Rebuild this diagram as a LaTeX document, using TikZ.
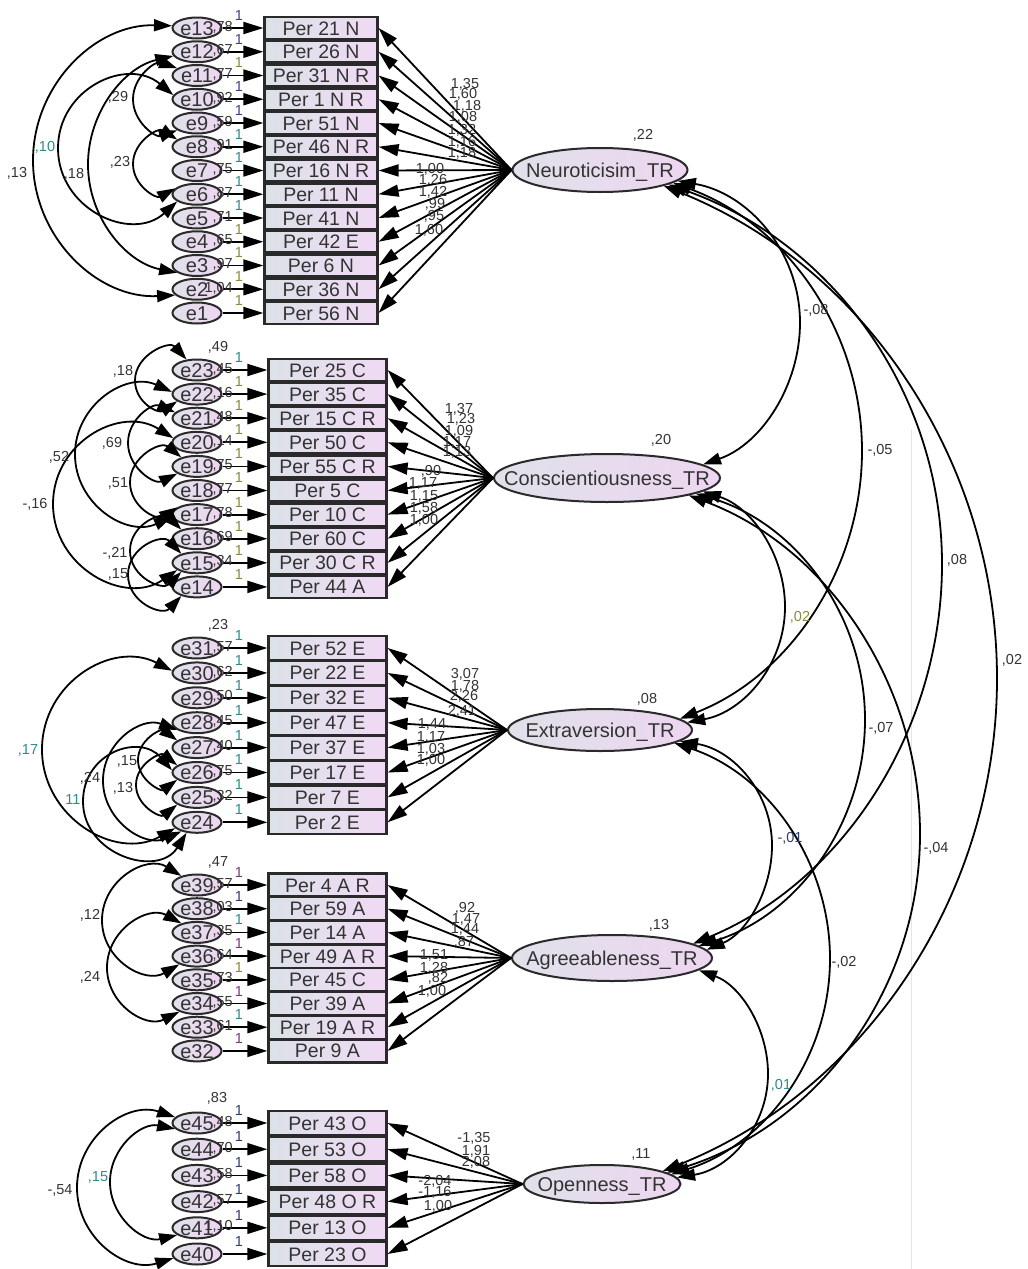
\documentclass[tikz,border=0pt]{standalone}
\usepackage{fontspec}
\setmainfont{Liberation Sans}
\usetikzlibrary{arrows.meta,shapes.geometric}
\definecolor{boxL}{HTML}{DCE1E8}
\definecolor{boxR}{HTML}{F0DAF4}
\definecolor{elL}{HTML}{E0E1EA}
\definecolor{elR}{HTML}{EDD6F0}
\definecolor{lnc}{HTML}{2A2A2A}
\definecolor{cP}{HTML}{4B3F8C}
\definecolor{cT}{HTML}{2E8B8B}
\definecolor{cO}{HTML}{8C8A3C}
\definecolor{cM}{HTML}{7A3A7A}
\definecolor{cD}{HTML}{333333}
\definecolor{cB}{HTML}{2F3F6F}
\newcommand{\ctext}[1]{\raisebox{-0.36em}[0pt][0pt]{\makebox[0pt][c]{#1}}}
\newcounter{lbc}
\newcommand{\mylab}[4][cD]{\stepcounter{lbc}\node[lab,text=#1,#2] (lbl\arabic{lbc}) at (#3) {#4};}
\tikzset{
 obsbox/.style={rectangle, draw=lnc, line width=2.2pt, left color=boxL, right color=boxR, inner sep=0pt, font=\fontsize{19.5pt}{20pt}\selectfont, text=cD},
 errel/.style={ellipse, draw=lnc, line width=2pt, left color=elL, right color=elR, inner sep=0pt, minimum width=49pt, minimum height=21pt, font=\fontsize{20pt}{21pt}\selectfont, text=cD},
 latel/.style={ellipse, draw=lnc, line width=2pt, left color=elL, right color=elR, inner sep=0pt, font=\fontsize{20pt}{21pt}\selectfont, text=cD},
 lab/.style={inner sep=0pt, font=\fontsize{14.5pt}{15pt}\selectfont, text=cD},
 reg/.style={draw=black, line width=1.8pt, -{Triangle[length=20pt,width=12pt]}},
 cov/.style={draw=black, line width=1.8pt, {Triangle[length=18pt,width=12pt]}-{Triangle[length=18pt,width=12pt]}},
}
\newcommand{\cvarc}[4]{%
 \path #1; \pgfgetlastxy{\cvXa}{\cvYa}%
 \path #2; \pgfgetlastxy{\cvXb}{\cvYb}%
 \pgfmathsetmacro{\cvxa}{\cvXa}%
 \pgfmathsetmacro{\cvya}{\cvYa}%
 \pgfmathsetmacro{\cvxb}{\cvXb}%
 \pgfmathsetmacro{\cvyb}{\cvYb}%
 \pgfmathsetmacro{\cvs}{#4}%
 \pgfmathsetmacro{\cvxe}{#3}%
 \pgfmathsetmacro{\cvxo}{((\cvxa)+(\cvxb))/2}%
 \pgfmathsetmacro{\cvym}{((\cvya)+(\cvyb))/2}%
 \pgfmathsetmacro{\cvh}{abs((\cvya)-(\cvyb))/200}%
 \pgfmathsetmacro{\cvd}{(\cvs)*((\cvxe)-(\cvxo))/100}%
 \pgfmathsetmacro{\cvr}{100*((\cvd)*(\cvd)+(\cvh)*(\cvh))/(2*(\cvd))}%
 \pgfmathsetmacro{\cvcx}{(\cvxe)-(\cvs)*(\cvr)}%
 \pgfmathsetmacro{\cvta}{atan2((\cvya)-(\cvym),(\cvxa)-(\cvcx))}%
 \pgfmathsetmacro{\cvtb}{atan2((\cvyb)-(\cvym),(\cvxb)-(\cvcx))}%
 \pgfmathsetmacro{\cvba}{(1-(\cvs))*90+(\cvs)*(\cvta)}%
 \pgfmathsetmacro{\cvbb}{(1-(\cvs))*90-(\cvs)*(\cvtb)}%
 \pgfmathsetmacro{\cvka}{4/3*tan((\cvba)/4)*(\cvr)}%
 \pgfmathsetmacro{\cvkb}{4/3*tan((\cvbb)/4)*(\cvr)}%
 \pgfmathsetmacro{\cvpx}{(\cvxa)+(\cvka)*(\cvs)*sin(\cvta)}%
 \pgfmathsetmacro{\cvpy}{(\cvya)-(\cvka)*(\cvs)*cos(\cvta)}%
 \pgfmathsetmacro{\cvqx}{(\cvxb)-(\cvkb)*(\cvs)*sin(\cvtb)}%
 \pgfmathsetmacro{\cvqy}{(\cvyb)+(\cvkb)*(\cvs)*cos(\cvtb)}%
 \pgfmathsetmacro{\cvmu}{(\cvym)+(\cvka)}%
 \pgfmathsetmacro{\cvmd}{(\cvym)-(\cvkb)}%
 \draw[cov] #1 .. controls (\cvpx pt,\cvpy pt) and (\cvxe pt,\cvmu pt) .. (\cvxe pt,\cvym pt) .. controls (\cvxe pt,\cvmd pt) and (\cvqx pt,\cvqy pt) .. #2;
}
\begin{document}
\begin{tikzpicture}[x=1pt,y=-1pt]
\fill[white] (0,0) rectangle (1028,1269);
\useasboundingbox (0,0) rectangle (1028,1269);
\draw[black!10, line width=0.8pt] (911,430) -- (911,1269);

% ---------- latent variables
\node[latel, minimum width=175pt, minimum height=44pt] (N) at (600,170) {\ctext{Neuroticisim\_TR}};
\node[latel, minimum width=226pt, minimum height=48pt] (C) at (607,478) {\ctext{Conscientiousness\_TR}};
\node[latel, minimum width=184pt, minimum height=42pt] (E) at (600,730) {\ctext{Extraversion\_TR}};
\node[latel, minimum width=200pt, minimum height=46pt] (A) at (612,958) {\ctext{Agreeableness\_TR}};
\node[latel, minimum width=157pt, minimum height=38pt] (O) at (602,1184) {\ctext{Openness\_TR}};

% ---------- Neuroticism block
\foreach \i/\en/\bt/\vl/\oc in {
 0/e13/Per 21 N/{,78}/cP,
 1/e12/Per 26 N/{,67}/cP,
 2/e11/Per 31 N R/{,77}/cO,
 3/e10/Per 1 N R/{,92}/cP,
 4/e9/Per 51 N/{,59}/cP,
 5/e8/Per 46 N R/{,91}/cT,
 6/e7/Per 16 N R/{,75}/cT,
 7/e6/Per 11 N/{,87}/cT,
 8/e5/Per 41 N/{,71}/cT,
 9/e4/Per 42 E/{,65}/cO,
 10/e3/Per 6 N/{,97}/cO,
 11/e2/Per 36 N/{1,04}/cO,
 12/e1/Per 56 N/{}/cO}{
 \pgfmathsetmacro{\yy}{28+23.75*\i}
 \node[errel] (Ne\i) at (197,\yy) {\ctext{\en}};
 \node[obsbox, minimum width=113pt, minimum height=21.5pt] (Nb\i) at (321,\yy) {\ctext{\bt}};
 \draw[reg] (Ne\i) -- (Nb\i);
 \draw[reg] (N.west) -- (Nb\i.east);
 \mylab[\oc]{}{239,\yy-12.5}{1}
 \mylab{anchor=east}{233,\yy-1}{\vl}
}

% ---------- Conscientiousness block
\foreach \i/\en/\bt/\vl/\oc in {
 0/e23/Per 25 C/{,45}/cT,
 1/e22/Per 35 C/{,16}/cO,
 2/e21/Per 15 C R/{,48}/cO,
 3/e20/Per 50 C/{,14}/cO,
 4/e19/Per 55 C R/{,75}/cO,
 5/e18/Per 5 C/{,77}/cO,
 6/e17/Per 10 C/{,78}/cO,
 7/e16/Per 60 C/{,69}/cO,
 8/e15/Per 30 C R/{,34}/cO,
 9/e14/Per 44 A/{}/cO}{
 \pgfmathsetmacro{\yy}{370+24.1*\i}
 \node[errel] (Ce\i) at (197,\yy) {\ctext{\en}};
 \node[obsbox, minimum width=118pt, minimum height=22pt] (Cb\i) at (327.5,\yy) {\ctext{\bt}};
 \draw[reg] (Ce\i) -- (Cb\i);
 \draw[reg] (C.west) -- (Cb\i.east);
 \mylab[\oc]{}{239,\yy-12.5}{1}
 \mylab{anchor=east}{233,\yy-1}{\vl}
}

% ---------- Extraversion block
\foreach \i/\en/\bt/\vl/\oc in {
 0/e31/Per 52 E/{,57}/cT,
 1/e30/Per 22 E/{,62}/cT,
 2/e29/Per 32 E/{,50}/cT,
 3/e28/Per 47 E/{,45}/cT,
 4/e27/Per 37 E/{,40}/cT,
 5/e26/Per 17 E/{,75}/cT,
 6/e25/Per 7 E/{,32}/cT,
 7/e24/Per 2 E/{}/cT}{
 \pgfmathsetmacro{\yy}{648+24.9*\i}
 \node[errel] (Ee\i) at (197,\yy) {\ctext{\en}};
 \node[obsbox, minimum width=118pt, minimum height=24pt] (Eb\i) at (327.5,\yy) {\ctext{\bt}};
 \draw[reg] (Ee\i) -- (Eb\i);
 \draw[reg] (E.west) -- (Eb\i.east);
 \mylab[\oc]{}{239,\yy-12.5}{1}
 \mylab{anchor=east}{233,\yy-1}{\vl}
}

% ---------- Agreeableness block
\foreach \i/\en/\bt/\vl/\oc in {
 0/e39/Per 4 A R/{,57}/cM,
 1/e38/Per 59 A/{,03}/cB,
 2/e37/Per 14 A/{,35}/cT,
 3/e36/Per 49 A R/{,64}/cM,
 4/e35/Per 45 C/{,73}/cO,
 5/e34/Per 39 A/{,55}/cM,
 6/e33/Per 19 A R/{,61}/cT,
 7/e32/Per 9 A/{}/cM}{
 \pgfmathsetmacro{\yy}{885+23.7*\i}
 \node[errel] (Ae\i) at (197,\yy) {\ctext{\en}};
 \node[obsbox, minimum width=118pt, minimum height=23pt] (Ab\i) at (327.5,\yy) {\ctext{\bt}};
 \draw[reg] (Ae\i) -- (Ab\i);
 \draw[reg] (A.west) -- (Ab\i.east);
 \mylab[\oc]{}{239,\yy-12.5}{1}
 \mylab{anchor=east}{233,\yy-1}{\vl}
}

% ---------- Openness block
\foreach \i/\en/\bt/\vl/\oc in {
 0/e45/Per 43 O/{,48}/cB,
 1/e44/Per 53 O/{,70}/cB,
 2/e43/Per 58 O/{,58}/cB,
 3/e42/Per 48 O R/{,57}/cB,
 4/e41/Per 13 O/{1,10}/cB,
 5/e40/Per 23 O/{}/cB}{
 \pgfmathsetmacro{\yy}{1123+26.2*\i}
 \node[errel] (Oe\i) at (197,\yy) {\ctext{\en}};
 \node[obsbox, minimum width=118pt, minimum height=24pt] (Ob\i) at (327.5,\yy) {\ctext{\bt}};
 \draw[reg] (Oe\i) -- (Ob\i);
 \draw[reg] (O.west) -- (Ob\i.east);
 \mylab[\oc]{}{239,\yy-12.5}{1}
 \mylab{anchor=east}{233,\yy-1}{\vl}
}

% ---------- variance labels above first error / latents
\mylab{}{218,347}{,49}
\mylab{}{218,625}{,23}
\mylab{}{218,862}{,47}
\mylab{}{217,1098}{,83}
\mylab{}{643,135}{,22}
\mylab{}{661,440}{,20}
\mylab{}{647,699}{,08}
\mylab{}{659,925}{,13}
\mylab{}{641,1154}{,11}

% ---------- loadings
\foreach \x/\y/\t in {465/84/{1,35},463/94/{1,60},467/106/{1,18},463/117/{1,08},462/130/{1,32},462/142/{1,16},462/153/{1,18},430/169/{1,00},433/180/{1,26},433/192/{1,42},435/204/{,99},434/216/{,95},429/230/{1,60},
 459/409/{1,37},461/419/{1,23},459/431/{1,09},457/442/{1,17},457/452/{1,13},431/471/{,90},423/483/{1,17},424/496/{1,15},424/508/{1,58},424/520/{1,00},
 465/674/{3,07},465/686/{1,78},464/696/{2,26},462/711/{2,41},432/724/{1,44},431/737/{1,17},431/749/{1,03},431/760/{1,00},
 465/908/{,92},466/919/{1,47},465/929/{1,44},464/942/{,87},434/955/{1,51},434/968/{1,28},438/978/{,82},432/991/{1,00},
 474/1138/{-1,35},476/1151/{1,91},476/1162/{2,08},435/1181/{-2,04},435/1192/{-1,16},438/1206/{1,00}}{
 \mylab{}{\x,\y}{\t}
}

% ---------- error covariances (left)
\cvarc{(Ne0.175)}{(Ne11.195)}{33}{-1}
\cvarc{(Ne1.190)}{(Ne10.200)}{88}{-1}
\cvarc{(Ne3.170)}{(Ne7.200)}{58}{-1}
\cvarc{(Ne2.160)}{(Ne4.200)}{133}{-1}
\cvarc{(Ne5.160)}{(Ne7.165)}{133}{-1}
\mylab{}{17,173}{,13}
\mylab[cT]{}{45,147}{,10}
\mylab{}{74,174}{,18}
\mylab{}{118,97}{,29}
\mylab{}{120,162}{,23}

\cvarc{(Ce0.135)}{(Ce1.200)}{135}{-1}
\cvarc{(Ce1.175)}{(Ce6.185)}{75}{-1}
\cvarc{(Ce3.170)}{(Ce8.200)}{53}{-1}
\cvarc{(Ce2.165)}{(Ce4.200)}{128}{-1}
\cvarc{(Ce4.150)}{(Ce6.160)}{130}{-1}
\cvarc{(Ce7.150)}{(Ce8.210)}{130}{-1}
\cvarc{(Ce8.150)}{(Ce9.210)}{128}{-1}
\mylab{}{123,371}{,18}
\mylab{}{59,457}{,52}
\mylab{}{35,504}{-,16}
\mylab{}{112,443}{,69}
\mylab{}{118,483}{,51}
\mylab{}{115,553}{-,21}
\mylab{}{118,574}{,15}

\cvarc{(Ee1.175)}{(Ee7.195)}{42}{-1}
\cvarc{(Ee3.200)}{(Ee7.210)}{103}{-1}
\cvarc{(Ee5.175)}{(Ee7.225)}{83}{-1}
\cvarc{(Ee4.160)}{(Ee5.200)}{138}{-1}
\cvarc{(Ee5.160)}{(Ee6.200)}{136}{-1}
\mylab[cT]{}{28,750}{,17}
\mylab{}{90,778}{,24}
\mylab[cT]{}{73,800}{11}
\mylab{}{127,761}{,15}
\mylab{}{123,788}{,13}

\cvarc{(Ae0.150)}{(Ae3.205)}{102}{-1}
\cvarc{(Ae2.150)}{(Ae5.205)}{107}{-1}
\mylab{}{90,915}{,12}
\mylab{}{90,977}{,24}

\cvarc{(Oe0.165)}{(Oe5.190)}{77}{-1}
\cvarc{(Oe0.195)}{(Oe4.200)}{110}{-1}
\mylab{}{60,1190}{-,54}
\mylab[cT]{}{98,1177}{,15}

% ---------- latent covariances (right)
\cvarc{(N.-8)}{(C.8)}{800}{1}
\cvarc{(N.-10)}{(E.8)}{862}{1}
\cvarc{(N.-12)}{(A.10)}{942}{1}
\cvarc{(N.-14)}{(O.12)}{997}{1}
\cvarc{(C.-8)}{(E.5)}{785}{1}
\cvarc{(C.-10)}{(A.8)}{865}{1}
\cvarc{(C.-12)}{(O.10)}{920}{1}
\cvarc{(E.-8)}{(A.5)}{772}{1}
\cvarc{(E.-10)}{(O.8)}{830}{1}
\cvarc{(A.-8)}{(O.5)}{768}{1}
\mylab{}{816,310}{-,08}
\mylab{}{880,450}{-,05}
\mylab{}{957,560}{,08}
\mylab{}{1012,660}{,02}
\mylab[cO]{}{800,617}{,02}
\mylab{}{881,728}{-,07}
\mylab{}{936,848}{-,04}
\mylab[cB]{}{790,838}{-,01}
\mylab{}{844,962}{-,02}
\mylab[cT]{}{781,1085}{,01}
\end{tikzpicture}
\end{document}
